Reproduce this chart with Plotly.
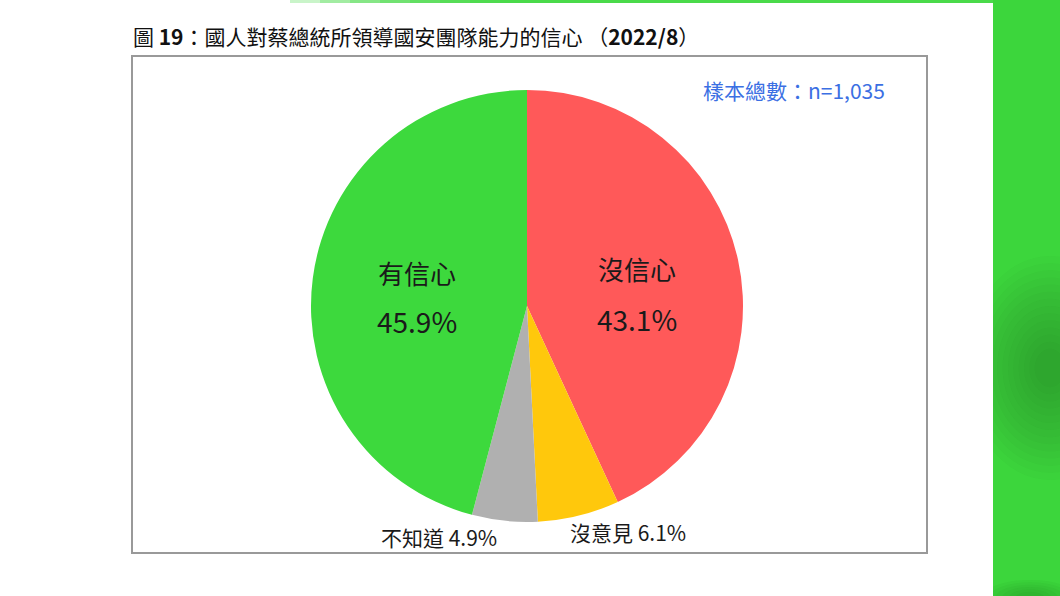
import plotly.graph_objects as go

categories = ["沒信心", "沒意見", "不知道", "有信心"]
values = [43.1, 6.1, 4.9, 45.9]
colors = ["#FF5959", "#FFC80C", "#B0B0B0", "#3DD93D"]

title_text = "圖 <b>19</b>：國人對蔡總統所領導國安團隊能力的信心 （<b>2022/8</b>）"
sample_text = "樣本總數：n=1,035"

W, H = 1060, 596
FONT = "Noto Sans CJK TC, Noto Sans, sans-serif"

cx, cy, r = 527, 306, 216

fig = go.Figure()
fig.add_trace(go.Pie(
    labels=categories, values=values, sort=False, direction="clockwise", rotation=0,
    marker=dict(colors=colors, line=dict(width=0)),
    textinfo="none", hoverinfo="label+percent", showlegend=False,
    domain=dict(x=[(cx - r) / W, (cx + r) / W], y=[1 - (cy + r) / H, 1 - (cy - r) / H]),
))

def px(x):
    return x / W

def py(y):
    return 1 - y / H

shapes = []
# right green band
shapes.append(dict(type="rect", xref="paper", yref="paper", x0=px(993), x1=1, y0=0, y1=1,
                   line=dict(width=0), fillcolor="#3CD63C", layer="below"))
# darker blurred blob in band
n = 14
for i in range(n):
    f = 1 - i / n
    rx, ry = 75 * f + 10, 100 * f + 12
    shapes.append(dict(type="circle", xref="paper", yref="paper",
                       x0=px(1050 - rx), x1=px(1050 + rx), y0=py(368 + ry), y1=py(368 - ry),
                       line=dict(width=0), fillcolor="rgba(25,95,25,0.03)", layer="below"))
for i in range(6):
    f = 1 - i / 6
    rx, ry = 40 * f + 8, 14 * f + 4
    shapes.append(dict(type="circle", xref="paper", yref="paper",
                       x0=px(1030 - rx), x1=px(1030 + rx), y0=py(598 + ry), y1=py(598 - ry),
                       line=dict(width=0), fillcolor="rgba(25,95,25,0.05)", layer="below"))
# cover overflow beyond band left edge
shapes.append(dict(type="rect", xref="paper", yref="paper", x0=px(940), x1=px(993), y0=0, y1=py(4),
                   line=dict(width=0), fillcolor="white", layer="below"))
# top green strip with fade
steps = 8
for i in range(steps):
    x0 = 290 + i * 30
    shapes.append(dict(type="rect", xref="paper", yref="paper", x0=px(x0), x1=px(993), y0=py(3), y1=1,
                       line=dict(width=0), fillcolor="rgba(60,214,60,0.28)", layer="below"))
# frame
shapes.append(dict(type="rect", xref="paper", yref="paper", x0=px(132), x1=px(927), y0=py(553), y1=py(56),
                   line=dict(color="#999999", width=2), fillcolor="rgba(0,0,0,0)", layer="below"))
fig.update_layout(shapes=shapes)

ann = []
ann.append(dict(text=title_text, x=px(131), y=py(36), xanchor="left", yanchor="middle",
                font=dict(size=21, color="#111111", family=FONT)))
ann.append(dict(text=sample_text, x=px(794), y=py(90), xanchor="center", yanchor="middle",
                font=dict(size=21, color="#3B6FE3", family=FONT)))
inner = [
    ("有信心", 417, 272, 26), ("45.9%", 417, 321, 28),
    ("沒信心", 637, 269, 26), ("43.1%", 637, 319, 28),
]
for t, x, y, s in inner:
    ann.append(dict(text=t, x=px(x), y=py(y), xanchor="center", yanchor="middle",
                    font=dict(size=s, color="#1A1A1A", family=FONT)))
ann.append(dict(text=f"{categories[2]} {values[2]}%", x=px(439), y=py(537), xanchor="center", yanchor="middle",
                font=dict(size=21, color="#1A1A1A", family=FONT)))
ann.append(dict(text=f"{categories[1]} {values[1]}%", x=px(628), y=py(532), xanchor="center", yanchor="middle",
                font=dict(size=21, color="#1A1A1A", family=FONT)))
for a in ann:
    a.update(xref="paper", yref="paper", showarrow=False)
fig.update_layout(annotations=ann)

fig.update_layout(width=W, height=H, margin=dict(l=0, r=0, t=0, b=0),
                  paper_bgcolor="white", plot_bgcolor="white")
fig.write_html("out.html", config={"displayModeBar": False},
               post_script="document.body.style.margin='0';document.body.style.overflow='hidden';")
